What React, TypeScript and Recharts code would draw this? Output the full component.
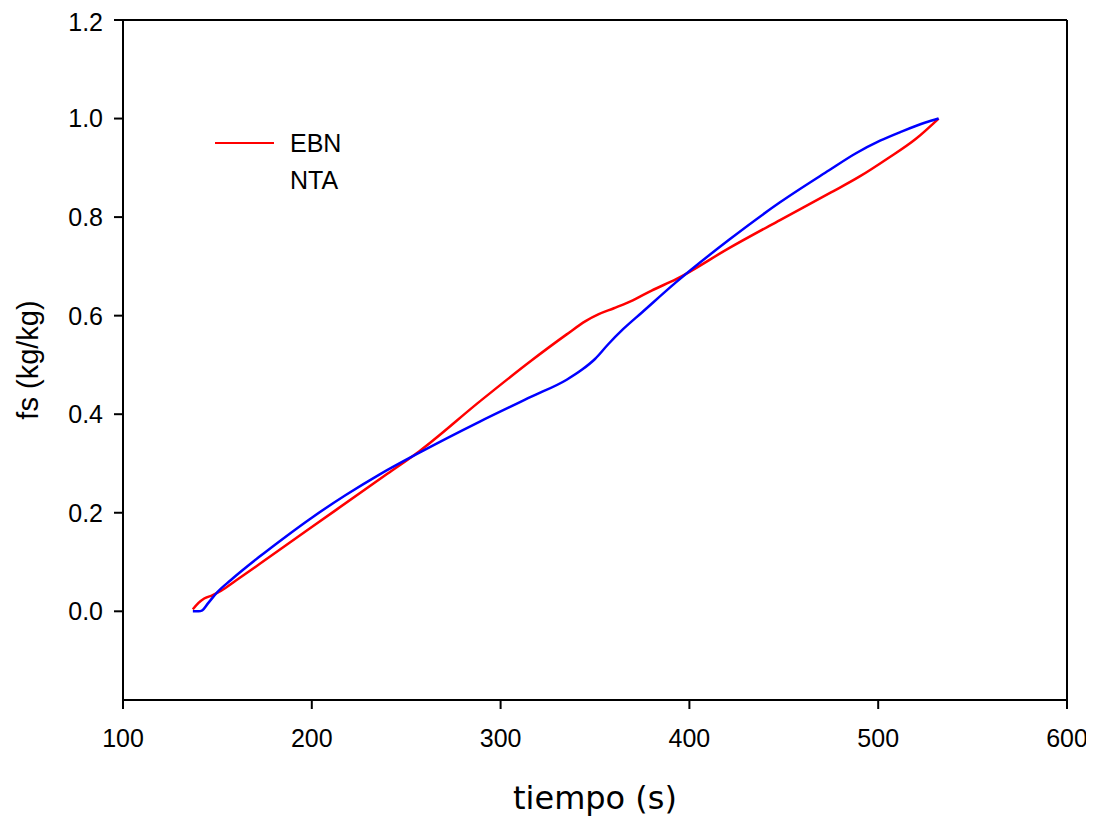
import { LineChart, Line, XAxis, YAxis, Legend, ReferenceLine } from 'recharts'

// EBN (red)
const ebnTime = [137, 140, 143, 147, 152, 160, 200, 240, 257, 289, 316, 335, 345, 352, 360, 370, 380, 393, 421, 448, 475, 490, 505, 520, 532]
const ebnFs = [0.004, 0.017, 0.026, 0.032, 0.042, 0.063, 0.171, 0.279, 0.325, 0.426, 0.508, 0.562, 0.589, 0.603, 0.615, 0.631, 0.651, 0.674, 0.737, 0.794, 0.85, 0.882, 0.919, 0.959, 1.0]

// NTA (blue)
const ntaTime = [137, 140, 142, 145, 150, 157, 172, 186, 200, 218, 236, 257, 289, 316, 335, 343, 350, 357, 365, 375, 393, 421, 448, 474, 488, 501, 512, 525, 532]
const ntaFs = [0.0, 0.0, 0.002, 0.016, 0.039, 0.063, 0.11, 0.151, 0.19, 0.236, 0.278, 0.322, 0.385, 0.435, 0.47, 0.49, 0.512, 0.542, 0.573, 0.607, 0.668, 0.754, 0.83, 0.895, 0.929, 0.955, 0.973, 0.992, 1.0]

const xTicks = [100, 200, 300, 400, 500, 600]
const yTicks = [0, 0.2, 0.4, 0.6, 0.8, 1.0, 1.2]

const ebnData = ebnTime.map((t, i) => ({ t, fs: ebnFs[i] }))
const ntaData = ntaTime.map((t, i) => ({ t, fs: ntaFs[i] }))

const axisFont = 'Liberation Sans, Arial, sans-serif'

const YLabel = (props: any) => {
  const vb = props.viewBox
  const cx = 20
  const cy = vb.y + vb.height / 2
  return (
    <text x={cx} y={cy} transform={`rotate(-90, ${cx}, ${cy})`} textAnchor="middle" dominantBaseline="central"
      fontSize={29} fontFamily={axisFont} fill="#000">
      fs (kg/kg)
    </text>
  )
}

const XLabel = (props: any) => {
  const vb = props.viewBox
  return (
    <text x={vb.x + vb.width / 2} y={790} textAnchor="middle" dominantBaseline="central"
      fontSize={32} fontFamily="DejaVu Sans, sans-serif" fill="#000">
      tiempo (s)
    </text>
  )
}

const LegendBox = (props: any) => {
  const items = props.payload || []
  return (
    <svg width={200} height={80}>
      {items.map((it: any, i: number) => (
        <g key={it.value}>
          {i === 0 && <line x1={7} x2={66} y1={27} y2={27} stroke={it.color} strokeWidth={2} />}
          <text x={82} y={27 + i * 37} dominantBaseline="central" fontSize={25} fontFamily={axisFont} fill="#000">
            {it.value}
          </text>
        </g>
      ))}
    </svg>
  )
}

export default function App() {
  return (
    <LineChart width={1086} height={808} margin={{ top: 12, right: 27, bottom: 0, left: 0 }}>
      <XAxis
        type="number"
        dataKey="t"
        domain={[100, 600]}
        ticks={xTicks}
        allowDuplicatedCategory={false}
        height={116}
        tickSize={9}
        tickMargin={20}
        axisLine={{ stroke: '#000', strokeWidth: 2 }}
        tickLine={{ stroke: '#000', strokeWidth: 2 }}
        tick={{ fill: '#000', fontSize: 25, fontFamily: axisFont }}
        label={<XLabel />}
      />
      <YAxis
        type="number"
        domain={[-0.18, 1.2]}
        ticks={yTicks}
        width={115}
        tickSize={9}
        tickMargin={11}
        tickFormatter={(v: number) => v.toFixed(1)}
        axisLine={{ stroke: '#000', strokeWidth: 2 }}
        tickLine={{ stroke: '#000', strokeWidth: 2 }}
        tick={{ fill: '#000', fontSize: 25, fontFamily: axisFont }}
        label={<YLabel />}
      />
      <ReferenceLine y={1.2} stroke="#000" strokeWidth={2} ifOverflow="visible" />
      <ReferenceLine x={600} stroke="#000" strokeWidth={2} ifOverflow="visible" />
      <Legend
        layout="vertical"
        align="center"
        verticalAlign="middle"
        content={<LegendBox />}
        wrapperStyle={{ position: 'absolute', left: 200, top: 108, width: 200, height: 80 }}
      />
      <Line data={ebnData} dataKey="fs" name="EBN" type="monotone" stroke="#ff0000" strokeWidth={2.5} dot={false} isAnimationActive={false} />
      <Line data={ntaData} dataKey="fs" name="NTA" type="monotone" stroke="#0000ff" strokeWidth={2.5} dot={false} isAnimationActive={false} />
    </LineChart>
  )
}
